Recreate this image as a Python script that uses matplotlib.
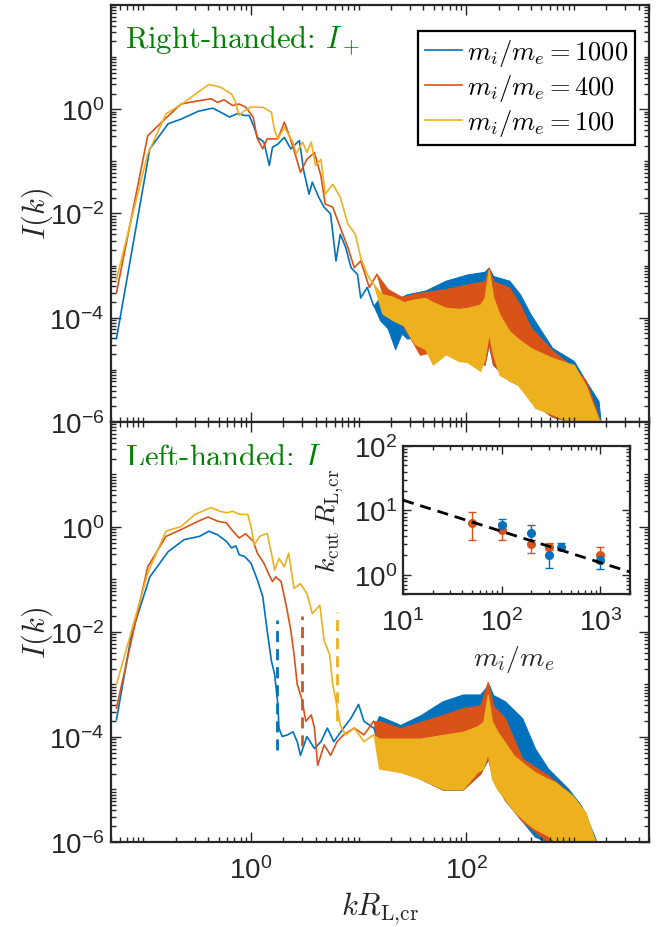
import numpy as np
import matplotlib
matplotlib.use('Agg')
from matplotlib import pyplot as plt
from matplotlib.ticker import LogLocator, FixedLocator, NullFormatter
from matplotlib.font_manager import FontProperties

# colours (MATLAB default order)
c_blue = '#0072BD'
c_red = '#D95319'
c_yel = '#EDB120'
c_green = '#008000'
c_ax = '#262626'

labels = [r'$m_i/m_e = 1000$', r'$m_i/m_e = 400$', r'$m_i/m_e = 100$']

# ---- data as log10(k R_L,cr) and log10 I(k) ----
# right-handed panel, smooth low-k part
top_blue_logk = [-1.25, -0.94, -0.77, -0.65, -0.49, -0.355, -0.28, -0.20, -0.12, -0.06, -0.016, 0.03, 0.06,
                 0.12, 0.17, 0.20, 0.25, 0.31, 0.37, 0.45, 0.49, 0.54, 0.57, 0.63, 0.68, 0.74, 0.79, 0.83,
                 0.88, 0.93, 0.99, 1.02, 1.08, 1.14]
top_blue_logI = [-4.40, -0.76, -0.28, -0.19, -0.04, 0.02, -0.06, -0.15, -0.08, -0.12, -0.12, -0.35, -0.54,
                 -0.63, -1.08, -0.73, -0.67, -0.54, -0.76, -0.60, -1.18, -1.63, -1.40, -1.69, -1.88, -2.01, -2.91, -2.40,
                 -2.65, -3.04, -3.17, -3.62, -3.42, -3.77]
top_red_logk = [-1.25, -0.96, -0.80, -0.65, -0.52, -0.37, -0.31, -0.25, -0.17, -0.11, -0.05, 0.02, 0.06, 0.11,
                0.15, 0.25, 0.31, 0.35, 0.40, 0.46, 0.52, 0.59, 0.65, 0.69, 0.76, 0.83, 0.90, 0.96, 1.02, 1.10, 1.17]
top_red_logI = [-3.52, -0.51, -0.19, 0.10, 0.15, 0.20, 0.13, 0.18, 0.07, 0.10, 0.04, -0.15, -0.57, -0.76,
                -0.57, -0.57, -0.25, -0.47, -0.79, -1.21, -0.96, -0.83, -1.28, -1.82, -1.88, -2.27, -2.65, -3.04, -2.91,
                -3.42, -3.17]
top_yel_logk = [-1.25, -0.96, -0.79, -0.62, -0.49, -0.39, -0.28, -0.18, -0.15, -0.11, -0.06, 0.0, 0.06, 0.12,
                0.19, 0.22, 0.25, 0.31, 0.39, 0.42, 0.48, 0.52, 0.56, 0.60, 0.65, 0.69, 0.76, 0.83, 0.90, 0.97,
                1.02, 1.08, 1.14]
top_yel_logI = [-3.26, -0.86, -0.09, 0.13, 0.33, 0.475, 0.42, 0.29, 0.17, -0.12, -0.03, 0.04, 0.04, 0.03,
                -0.06, -0.41, -0.57, -0.35, -0.63, -0.86, -0.63, -0.83, -0.63, -1.08, -0.96, -1.63, -1.44, -1.69,
                -2.20, -2.40, -2.85, -3.17, -3.36]

# right-handed panel, noisy high-k band: upper / lower envelope
top_blue_band_logk = [1.14, 1.20, 1.27, 1.34, 1.40, 1.45, 1.62, 1.81, 2.01, 2.17, 2.21, 2.25, 2.40, 2.50, 2.60,
                      2.80, 3.00, 3.11, 3.23, 3.25]
top_blue_band_hi = [-3.77, -3.60, -3.55, -3.62, -3.60, -3.55, -3.48, -3.29, -3.17, -3.12, -3.04, -3.20, -3.29,
                    -3.55, -3.94, -4.58, -4.83, -5.21, -5.60, -6.0]
top_blue_band_lo = [-3.77, -4.05, -4.20, -4.60, -4.30, -4.40, -4.35, -4.60, -4.80, -4.90, -4.50, -4.90, -5.20,
                    -5.30, -5.60, -5.90, -6.0, -6.0, -6.0, -6.0]
top_red_band_logk = [1.17, 1.27, 1.40, 1.57, 1.81, 2.01, 2.17, 2.21, 2.25, 2.40, 2.50, 2.60, 2.80, 3.00, 3.11,
                     3.23, 3.25]
top_red_band_hi = [-3.17, -3.45, -3.60, -3.52, -3.45, -3.36, -3.30, -3.04, -3.30, -3.42, -3.75, -4.19, -4.63,
                   -4.96, -5.20, -5.90, -6.0]
top_red_band_lo = [-3.17, -3.90, -4.10, -4.71, -4.60, -4.80, -4.90, -4.50, -4.90, -5.20, -5.30, -5.60, -5.90,
                   -6.0, -6.0, -6.0, -6.0]
top_yel_band_logk = [1.14, 1.22, 1.32, 1.42, 1.52, 1.62, 1.69, 1.81, 1.93, 2.01, 2.13, 2.17, 2.21, 2.25, 2.31,
                     2.40, 2.48, 2.60, 2.64, 2.80, 2.96, 3.00, 3.11, 3.23, 3.26]
top_yel_band_hi = [-3.36, -3.55, -3.60, -3.70, -3.65, -3.62, -3.70, -3.81, -3.83, -3.81, -3.75, -3.62, -3.08,
                   -3.60, -3.94, -4.25, -4.40, -4.58, -4.62, -4.77, -4.88, -4.90, -5.30, -5.95, -6.0]
top_yel_band_lo = [-3.36, -3.92, -4.05, -4.15, -4.50, -4.60, -4.90, -4.70, -4.83, -4.85, -5.02, -4.80, -4.30,
                   -4.70, -5.10, -5.20, -5.29, -5.60, -5.73, -5.85, -6.0, -6.0, -6.0, -6.0, -6.0]

# left-handed panel, smooth low-k part
bot_blue_logk = [-1.25, -1.11, -0.94, -0.77, -0.62, -0.48, -0.39, -0.31, -0.23, -0.18, -0.14, -0.11, -0.06,
                 0.0, 0.06, 0.11, 0.15, 0.19, 0.22, 0.25, 0.26, 0.29, 0.34, 0.39, 0.43, 0.46, 0.52, 0.59, 0.65,
                 0.71, 0.77, 0.86, 0.93, 1.00, 1.05, 1.14]
bot_blue_logI = [-3.67, -2.04, -0.95, -0.47, -0.24, -0.18, -0.08, -0.15, -0.27, -0.40, -0.36, -0.53, -0.56,
                 -0.69, -1.01, -1.33, -1.97, -2.55, -2.81, -3.38, -3.83, -3.99, -3.96, -3.90, -4.09, -4.35, -3.99,
                 -4.22, -4.09, -3.83, -4.09, -3.83, -3.64, -3.38, -3.70, -3.83]
bot_red_logk = [-1.25, -0.96, -0.79, -0.62, -0.49, -0.40, -0.31, -0.23, -0.18, -0.11, -0.05, 0.02, 0.06, 0.12,
                0.17, 0.20, 0.23, 0.28, 0.33, 0.37, 0.40, 0.43, 0.47, 0.51, 0.56, 0.59, 0.62, 0.68, 0.74, 0.80,
                0.86, 0.96, 1.05, 1.14]
bot_red_logI = [-3.45, -0.76, -0.18, -0.02, 0.11, 0.19, 0.11, 0.08, -0.05, -0.21, -0.13, -0.27, -0.50, -0.69,
                -0.92, -1.04, -0.95, -1.04, -1.52, -1.97, -2.42, -3.00, -3.26, -3.70, -3.58, -3.83, -4.54, -4.15,
                -4.35, -4.09, -3.96, -3.83, -3.96, -3.70]
bot_yel_logk = [-1.25, -0.96, -0.79, -0.65, -0.52, -0.37, -0.29, -0.22, -0.17, -0.11, -0.03, 0.0, 0.03, 0.08,
                0.15, 0.19, 0.22, 0.26, 0.31, 0.35, 0.40, 0.46, 0.52, 0.57, 0.64, 0.68, 0.73, 0.76, 0.79, 0.83,
                0.88, 0.96, 1.05, 1.14]
bot_yel_logI = [-3.00, -0.88, -0.08, 0.01, 0.24, 0.37, 0.30, 0.27, 0.30, 0.24, 0.24, 0.01, -0.34, -0.18,
                -0.12, -0.50, -0.82, -0.60, -0.76, -0.50, -1.17, -1.08, -1.27, -1.65, -1.49, -2.17, -2.42, -3.00,
                -3.32, -3.77, -3.96, -3.83, -4.09, -3.96]

# left-handed panel, noisy high-k band
bot_blue_band_logk = [1.14, 1.19, 1.39, 1.58, 1.78, 1.97, 2.13, 2.21, 2.25, 2.36, 2.52, 2.64, 2.76, 2.95, 3.07,
                      3.19, 3.21]
bot_blue_band_hi = [-3.83, -3.60, -3.77, -3.58, -3.32, -3.19, -3.19, -3.00, -3.20, -3.32, -3.64, -4.22, -4.60,
                    -4.99, -5.31, -5.88, -6.0]
bot_blue_band_lo = [-3.83, -4.30, -4.60, -4.80, -5.00, -5.00, -4.70, -4.40, -4.80, -5.20, -5.60, -5.90, -6.0,
                    -6.0, -6.0, -6.0, -6.0]
bot_red_band_logk = [1.14, 1.20, 1.39, 1.58, 1.78, 1.97, 2.13, 2.20, 2.25, 2.36, 2.52, 2.76, 2.95, 3.07, 3.19,
                     3.21]
bot_red_band_hi = [-3.70, -3.70, -3.83, -3.71, -3.58, -3.45, -3.40, -2.95, -3.40, -3.64, -4.41, -4.73, -5.05,
                   -5.37, -5.94, -6.0]
bot_red_band_lo = [-3.70, -4.30, -4.60, -4.80, -5.00, -5.00, -4.70, -4.40, -4.80, -5.20, -5.60, -6.0, -6.0,
                   -6.0, -6.0, -6.0]
bot_yel_band_logk = [1.14, 1.19, 1.39, 1.58, 1.78, 1.97, 2.10, 2.16, 2.20, 2.24, 2.29, 2.36, 2.44, 2.56, 2.64,
                     2.76, 2.83, 2.88, 2.99, 3.11, 3.19, 3.21]
bot_yel_band_hi = [-3.96, -4.03, -4.03, -4.03, -3.96, -3.90, -3.80, -3.71, -3.19, -3.70, -3.90, -4.10, -4.35,
                   -4.55, -4.67, -4.80, -4.86, -4.95, -5.12, -5.44, -5.94, -6.0]
bot_yel_band_lo = [-3.96, -4.60, -4.67, -4.80, -4.99, -4.99, -4.67, -4.60, -4.30, -4.80, -5.00, -5.18, -5.40,
                   -5.63, -5.75, -5.88, -6.0, -6.0, -6.0, -6.0, -6.0, -6.0]

# cutoff markers (dashed) in the left-handed panel
cut_k = [1.73, 3.01, 6.25]
cut_top = [10**-1.78, 10**-1.69, 10**-1.62]
cut_bot = [10**-4.25, 10**-4.18, 10**-3.70]

# inset: k_cut vs mass ratio
ins_red_x = [50, 100, 200, 300, 1000]
ins_red_y = [6.4, 4.9, 3.0, 2.7, 2.0]
ins_red_lo = [3.5, 3.5, 2.2, 2.4, 1.5]
ins_red_hi = [9.3, 6.3, 3.4, 3.1, 2.7]
ins_blue_x = [100, 200, 300, 400, 1000]
ins_blue_y = [5.9, 4.5, 2.0, 2.7, 1.7]
ins_blue_lo = [4.8, 3.4, 1.27, 2.4, 1.24]
ins_blue_hi = [7.4, 5.9, 2.7, 3.1, 2.0]
fit_x = [10, 2000]
fit_y = [14.4, 1.1]


def draw_spectrum(ax, logk, logI, band_logk, band_hi, band_lo, color, label=None):
    line, = ax.plot(10**np.array(logk), 10**np.array(logI), color=color, lw=1.2, label=label)
    kb = 10**np.array(band_logk)
    ax.fill_between(kb, 10**np.array(band_lo), 10**np.array(band_hi), color=color, lw=0.8)
    return line


def style_axes(ax):
    ax.set_xscale('log')
    ax.set_yscale('log')
    ax.set_xlim(0.05, 5000)
    ax.set_ylim(1e-6, 1e2)
    ax.xaxis.set_major_locator(FixedLocator([1, 100]))
    ax.xaxis.set_minor_locator(LogLocator(base=10, subs=np.arange(1, 10), numticks=50))
    ax.yaxis.set_major_locator(FixedLocator([1e-6, 1e-4, 1e-2, 1e0]))
    ax.yaxis.set_minor_locator(LogLocator(base=10, subs=np.arange(1, 10), numticks=50))
    ax.xaxis.set_minor_formatter(NullFormatter())
    ax.yaxis.set_minor_formatter(NullFormatter())
    ax.tick_params(which='both', direction='in', top=True, right=True, colors=c_ax, width=1.0)
    ax.tick_params(which='major', length=7, labelsize=20)
    ax.tick_params(which='minor', length=3.5)
    ax.tick_params(axis='x', which='major', pad=10)
    ax.tick_params(axis='y', which='major', pad=5)
    for s in ax.spines.values():
        s.set_linewidth(1.6)
        s.set_color(c_ax)


plt.rcParams.update({'font.family': ['Liberation Sans', 'DejaVu Sans'], 'font.size': 20})

fig = plt.figure(figsize=(6.65, 9.28), dpi=100)
ax1 = fig.add_axes([0.1669, 0.5442, 0.809, 0.4494])
ax2 = fig.add_axes([0.1669, 0.0916, 0.809, 0.4526], sharex=ax1)

# right-handed
h1 = draw_spectrum(ax1, top_blue_logk, top_blue_logI, top_blue_band_logk, top_blue_band_hi, top_blue_band_lo,
                   c_blue, labels[0])
h2 = draw_spectrum(ax1, top_red_logk, top_red_logI, top_red_band_logk, top_red_band_hi, top_red_band_lo,
                   c_red, labels[1])
h3 = draw_spectrum(ax1, top_yel_logk, top_yel_logI, top_yel_band_logk, top_yel_band_hi, top_yel_band_lo,
                   c_yel, labels[2])

# left-handed
draw_spectrum(ax2, bot_blue_logk, bot_blue_logI, bot_blue_band_logk, bot_blue_band_hi, bot_blue_band_lo, c_blue)
draw_spectrum(ax2, bot_red_logk, bot_red_logI, bot_red_band_logk, bot_red_band_hi, bot_red_band_lo, c_red)
draw_spectrum(ax2, bot_yel_logk, bot_yel_logI, bot_yel_band_logk, bot_yel_band_hi, bot_yel_band_lo, c_yel)
for k, y0, y1, c in zip(cut_k, cut_bot, cut_top, [c_blue, c_red, c_yel]):
    ax2.plot([k, k], [y0, y1], color=c, lw=2, ls=(0, (4, 2.5)))

for ax in (ax1, ax2):
    style_axes(ax)
    ax.set_ylabel(r'$I(k)$', fontsize=22, math_fontfamily='cm', color=c_ax)
ax1.yaxis.set_label_coords(-0.105, 0.5)
ax2.yaxis.set_label_coords(-0.105, 0.5)
ax1.tick_params(axis='x', labelbottom=False)
ax2.set_xlabel(r'$kR_{\mathrm{L},\!\mathrm{cr}}$', fontsize=22, math_fontfamily='cm', color=c_ax)
ax2.xaxis.set_label_coords(0.5, -0.115)

ax1.text(0.026, 0.918, 'Right-handed: $I_+$', transform=ax1.transAxes, va='center', ha='left',
         color=c_green, fontsize=22, family='cmr10', math_fontfamily='cm', zorder=10)
ax2.text(0.026, 0.926, 'Left-handed: $I_-$', transform=ax2.transAxes, va='center', ha='left',
         color=c_green, fontsize=22, family='cmr10', math_fontfamily='cm', zorder=10)

leg = ax1.legend(handles=[h1, h2, h3], loc='upper right', bbox_to_anchor=(0.974, 0.938), borderaxespad=0,
                 prop=FontProperties(size=19, math_fontfamily='cm'), fancybox=False, framealpha=1,
                 edgecolor='black', handlelength=1.4, handletextpad=0.2, labelspacing=0.15, borderpad=0.25)
leg.get_frame().set_linewidth(1.6)

# inset
axin = fig.add_axes([0.606, 0.3588, 0.3414, 0.1595])
axin.set_xscale('log')
axin.set_yscale('log')
ry = np.array(ins_red_y)
by = np.array(ins_blue_y)
axin.errorbar(ins_red_x, ry, yerr=[ry - np.array(ins_red_lo), np.array(ins_red_hi) - ry], fmt='o',
              color=c_red, ms=5.5, capsize=3, elinewidth=1, capthick=1)
axin.errorbar(ins_blue_x, by, yerr=[by - np.array(ins_blue_lo), np.array(ins_blue_hi) - by], fmt='o',
              color=c_blue, ms=5.5, capsize=3, elinewidth=1, capthick=1)
axin.plot(fit_x, fit_y, color='k', lw=2, ls=(0, (4, 2.5)), zorder=5)
axin.set_xlim(10, 2000)
axin.set_ylim(0.5, 100)
axin.xaxis.set_major_locator(FixedLocator([10, 100, 1000]))
axin.yaxis.set_major_locator(FixedLocator([1, 10, 100]))
axin.xaxis.set_minor_locator(LogLocator(base=10, subs=np.arange(2, 10), numticks=20))
axin.yaxis.set_minor_locator(LogLocator(base=10, subs=np.arange(2, 10), numticks=20))
axin.xaxis.set_minor_formatter(NullFormatter())
axin.yaxis.set_minor_formatter(NullFormatter())
axin.tick_params(which='both', direction='in', top=True, right=True, colors=c_ax, width=1.0)
axin.tick_params(which='major', length=6, labelsize=20)
axin.tick_params(which='minor', length=3)
axin.tick_params(axis='x', which='major', pad=10)
axin.tick_params(axis='y', which='major', pad=4)
for s in axin.spines.values():
    s.set_linewidth(1.6)
    s.set_color(c_ax)
axin.set_xlabel(r'$m_i/m_e$', fontsize=20, math_fontfamily='cm', color=c_ax)
axin.set_ylabel(r'$k_{\mathrm{cut}}\,R_{\mathrm{L},\!\mathrm{cr}}$', fontsize=20, math_fontfamily='cm', color=c_ax)
axin.xaxis.set_label_coords(0.49, -0.33)
axin.yaxis.set_label_coords(-0.25, 0.5)

fig.savefig('out.png', dpi=100)
